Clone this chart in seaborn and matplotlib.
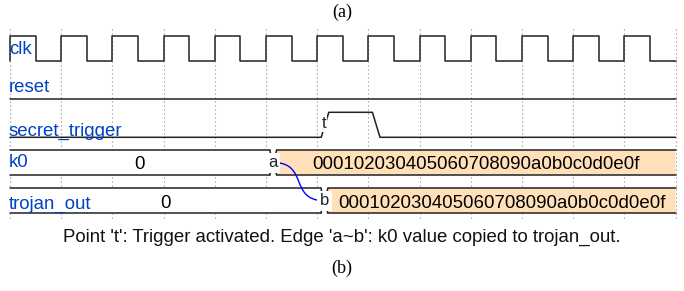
import numpy as np
import pandas as pd
import seaborn as sns
import matplotlib.pyplot as plt
from matplotlib.path import Path
from matplotlib.patches import PathPatch

# waveform description (wavedrom style), one char per clock period
signals = ["clk", "reset", "secret_trigger", "k0", "trojan_out"]
clk_wave = "p............"
reset_wave = "0............"
trigger_wave = "0.....10....."
k0_wave = "=....4......."
k0_data = ["0", "000102030405060708090a0b0c0d0e0f"]
trojan_wave = "=.....4......"
trojan_data = ["0", "000102030405060708090a0b0c0d0e0f"]
k0_nodes = ".....a......."
trojan_nodes = "......b......"
edge = ("a", "b")
node_text = {"a": "a", "b": "b"}
point_node = ("t", 2, 6)  # label, row, period
caption = "Point 't': Trigger activated. Edge 'a~b': k0 value copied to trojan_out."
n_periods = len(clk_wave)

# layout (pixels)
W, H = 684, 291
X0, PERIOD = 10, 51.2
row_low = [60.5, 99, 137.3, 175, 213.2]
row_h = 25
label_base = [54, 91.7, 135.7, 167, 209.3]
LINE = "#222222"
LABEL = "#0041c4"
fills = {"=": "white", "4": "#ffe0b9"}
rise_a, rise_b = 4 / PERIOD, 11.6 / PERIOD
bus_off, bus_w, bus_g = 7.2 / PERIOD, 3.4 / PERIOD, 0.7 / PERIOD


def px(x):
    return (x - X0) / PERIOD


def clock_points(wave):
    pts = [(0, 0)]
    for i, ch in enumerate(wave):
        pts += [(i, 1), (i + 0.5, 1), (i + 0.5, 0), (i + 1, 0)]
    return pts


def level_points(wave):
    cur = int(wave[0])
    pts = [(0, cur)]
    for i, ch in enumerate(wave[1:], start=1):
        if ch in "01" and int(ch) != cur:
            pts += [(i + rise_a, cur), (i + rise_b, int(ch))]
            cur = int(ch)
    pts.append((len(wave), cur))
    return pts


sns.set_theme(style="white")
plt.rcParams["font.family"] = ["Liberation Sans", "DejaVu Sans"]

fig = plt.figure(figsize=(W / 100, H / 100), dpi=100)
ax = fig.add_axes([0, 0, 1, 1])
ax.set_xlim(px(0), px(W))
ax.set_ylim(H, 0)
ax.axis("off")

# dotted period grid
ax.vlines(np.arange(n_periods + 1), 29, 221, colors="#8c8c8c",
          linestyles=(0, (1, 2.6)), linewidth=0.8, zorder=0)

# digital signals through seaborn
rows = []
for r, pts in [(0, clock_points(clk_wave)), (1, level_points(reset_wave)),
               (2, level_points(trigger_wave))]:
    for t, lv in pts:
        rows.append({"t": t, "y": row_low[r] - lv * row_h, "signal": signals[r]})
df = pd.DataFrame(rows)
sns.lineplot(data=df, x="t", y="y", units="signal", estimator=None, sort=False,
             color=LINE, linewidth=1.1, ax=ax, legend=False, zorder=3)


# bus signals
def draw_bus(r, wave, data):
    top, bot = row_low[r] - row_h, row_low[r]
    mid = (top + bot) / 2
    starts = [i for i, ch in enumerate(wave) if ch != "."]
    ends = starts[1:] + [len(wave)]
    centers = {}
    for k, (s, e) in enumerate(zip(starts, ends)):
        if s == 0:
            lt, lm = 0, 0
        else:
            lt, lm = s + bus_off + bus_w, s + bus_off + bus_g
            centers[s] = s + bus_off
        if e == len(wave):
            rt, rm = e, e
        else:
            rt, rm = e + bus_off - bus_w, e + bus_off - bus_g
        poly = [(lt, top), (rt, top), (rm, mid), (rt, bot), (lt, bot), (lm, mid)]
        ax.fill([p[0] for p in poly], [p[1] for p in poly],
                color=fills[wave[s]], lw=0, zorder=1)
        ax.plot([lt, rt], [top, top], color=LINE, lw=1.1, zorder=3)
        ax.plot([lt, rt], [bot, bot], color=LINE, lw=1.1, zorder=3)
        if s != 0:
            ax.plot([lt, lm, lt], [top, mid, bot], color=LINE, lw=1.1, zorder=3)
        if e != len(wave):
            ax.plot([rt, rm, rt], [top, mid, bot], color=LINE, lw=1.1, zorder=3)
        ax.text((lt + rt) / 2, bot - 5.6, data[k], ha="center", va="baseline",
                fontsize=13.4, color="black", zorder=4)
    return mid, centers


k0_mid, k0_c = draw_bus(3, k0_wave, k0_data)
tr_mid, tr_c = draw_bus(4, trojan_wave, trojan_data)

# node positions
nodes = {}
for ch_list, mid, cmap in [(k0_nodes, k0_mid, k0_c), (trojan_nodes, tr_mid, tr_c)]:
    for i, ch in enumerate(ch_list):
        if ch != ".":
            nodes[ch] = (cmap.get(i, i), mid)

# edge a~b
(xa, ya), (xb, yb) = nodes[edge[0]], nodes[edge[1]]
dx = xb - xa
path = Path([(xa, ya), (xa + 0.7 * dx, ya), (xa + 0.3 * dx, yb), (xb, yb)],
            [Path.MOVETO, Path.CURVE4, Path.CURVE4, Path.CURVE4])
ax.add_patch(PathPatch(path, fc="none", ec="#0000ff", lw=1.0, zorder=5))
for key, (x, y) in nodes.items():
    ax.text(x, y, node_text[key], ha="center", va="center", fontsize=12,
            color="#222222", zorder=6,
            bbox=dict(boxstyle="square,pad=0.15", fc="white", ec="none"))

# point 't' on the trigger rise
lab, r, per = point_node
ax.text(per + (rise_a + rise_b) / 2 - 0.02, row_low[r] - row_h / 2 - 1, lab,
        ha="center", va="center", fontsize=12, color="#222222", zorder=6,
        bbox=dict(boxstyle="square,pad=0.05", fc="white", ec="none"))

# signal names
for name, yb in zip(signals, label_base):
    ax.text(px(9), yb, name, ha="left", va="baseline", fontsize=13.4,
            color=LABEL, zorder=7)

ax.text(px(342), 241.5, caption, ha="center", va="baseline", fontsize=13.4,
        color="#111111")
ax.text(px(342), 12, "(a)", ha="center", va="center", fontsize=13,
        family=["Liberation Serif"], color="black")
ax.text(px(342), 268, "(b)", ha="center", va="center", fontsize=13,
        family=["Liberation Serif"], color="black")

plt.savefig("out.png", dpi=100)
